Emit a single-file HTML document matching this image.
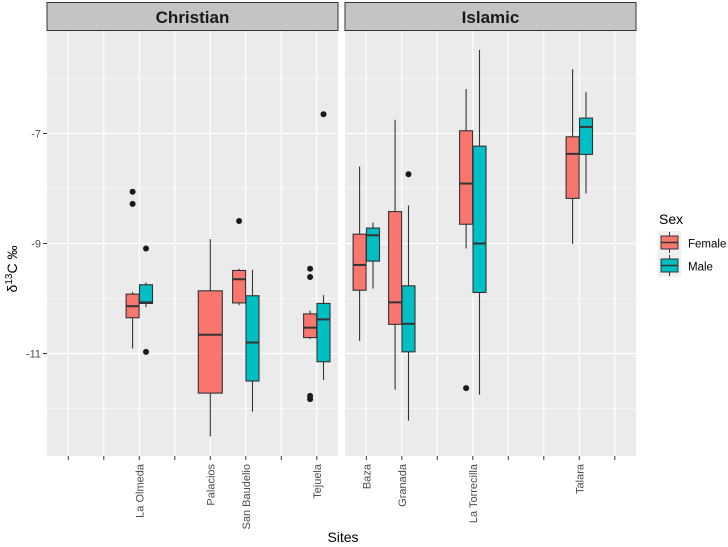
<!DOCTYPE html>
<html><head><meta charset="utf-8"><style>
body{margin:0;background:#fff;}
svg{display:block;font-family:"Liberation Sans",sans-serif;}
</style></head><body>
<svg id="chart" width="728" height="547" viewBox="0 0 728 547" xmlns="http://www.w3.org/2000/svg">
<g id="panels"></g>
<g>
<text x="659" y="224" font-size="14" fill="#000">Sex</text>
<rect x="658" y="231" width="23" height="23" fill="#f0f0f0"/>
<line x1="669.5" y1="232" x2="669.5" y2="253" stroke="#333" stroke-width="1"/>
<rect x="661" y="236" width="17" height="13" fill="#F8766D" stroke="#333" stroke-width="1"/>
<line x1="661" y1="242.5" x2="678" y2="242.5" stroke="#333" stroke-width="1.5"/>
<text x="688" y="247.5" font-size="11.5" fill="#000">Female</text>
<rect x="658" y="254" width="23" height="23" fill="#f0f0f0"/>
<line x1="669.5" y1="255" x2="669.5" y2="276" stroke="#333" stroke-width="1"/>
<rect x="661" y="259" width="17" height="13" fill="#00BFC4" stroke="#333" stroke-width="1"/>
<line x1="661" y1="265.5" x2="678" y2="265.5" stroke="#333" stroke-width="1.5"/>
<text x="688" y="270.5" font-size="11.5" fill="#000">Male</text>
</g>
<text x="343" y="542" font-size="14" text-anchor="middle" fill="#000">Sites</text>
<text transform="translate(17,269) rotate(-90)" font-size="14" text-anchor="middle" fill="#000">δ<tspan font-size="10" dy="-5">13</tspan><tspan dy="5">C ‰</tspan></text>
</svg>
<script>
const facets = ["Christian", "Islamic"];
const christianSites = ["", "", "La Olmeda", "", "Palacios", "San Baudelio", "", "Tejuela"];
const islamicSites = ["Baza", "Granada", "", "La Torrecilla", "", "", "Talara", ""];
const yTicks = [-7, -9, -11];
const yMinor = [-6, -8, -10, -12];
// each box: [facet, siteIndex, sex, lowWhisker, q1, median, q3, highWhisker]
const boxStats = [
  [0, 2, "F", -10.91, -10.35, -10.14, -9.92, -9.88],
  [0, 2, "M", -10.16, -10.09, -10.07, -9.75, -9.71],
  [0, 4, "F", -12.51, -11.72, -10.66, -9.86, -8.92],
  [0, 5, "F", -10.12, -10.08, -9.65, -9.49, -9.46],
  [0, 5, "M", -12.06, -11.5, -10.80, -9.95, -9.48],
  [0, 7, "F", -10.74, -10.71, -10.53, -10.28, -10.22],
  [0, 7, "M", -11.48, -11.15, -10.38, -10.09, -9.94],
  [1, 0, "F", -10.77, -9.85, -9.39, -8.83, -7.60],
  [1, 0, "M", -9.82, -9.32, -8.85, -8.72, -8.62],
  [1, 1, "F", -11.66, -10.47, -10.07, -8.42, -6.75],
  [1, 1, "M", -12.22, -10.97, -10.46, -9.77, -8.31],
  [1, 3, "F", -9.09, -8.65, -7.91, -6.95, -6.19],
  [1, 3, "M", -11.75, -9.89, -9.0, -7.23, -5.48],
  [1, 6, "F", -9.01, -8.18, -7.37, -7.06, -5.83],
  [1, 6, "M", -8.09, -7.38, -6.88, -6.72, -6.25]
];
// outliers: [facet, siteIndex, sex, value]
const outliers = [
  [0, 2, "F", -8.06], [0, 2, "F", -8.28],
  [0, 2, "M", -9.09], [0, 2, "M", -10.97],
  [0, 5, "F", -8.59],
  [0, 7, "F", -9.46], [0, 7, "F", -9.61], [0, 7, "F", -11.77], [0, 7, "F", -11.83],
  [0, 7, "M", -6.65],
  [1, 1, "M", -7.74],
  [1, 3, "F", -11.63]
];

{
const NS = "http://www.w3.org/2000/svg";
const panelX = [47, 345], panelW = 291, pTop = 31, pBottom = 456;
const step = 35.5;
function yScale(v){ return 133.5 - (v + 7) * 55; }
function xScale(f, i){ return panelX[f] + 21.3 + i * step; }
function mk(tag, attrs, parent){ const e = document.createElementNS(NS, tag); for (const k in attrs) e.setAttribute(k, attrs[k]); parent.appendChild(e); return e; }
const root = document.getElementById("panels");
const siteLists = [christianSites, islamicSites];
const colors = {F: "#F8766D", M: "#00BFC4"};

facets.forEach((fname, f) => {
  const g = mk("g", {}, root);
  
  
  const bg = mk("rect", {x: panelX[f], y: pTop, width: panelW, height: pBottom - pTop, fill: "#ebebeb"}, g);
  
  
  yMinor.forEach(v => { mk("line", {x1: panelX[f], x2: panelX[f] + panelW, y1: yScale(v), y2: yScale(v), stroke: "#fff", "stroke-width": 0.6}, g); });
  yTicks.forEach(v => { mk("line", {x1: panelX[f], x2: panelX[f] + panelW, y1: yScale(v), y2: yScale(v), stroke: "#fff", "stroke-width": 1.2}, g); });
  siteLists[f].forEach((s, i) => {
    const x = xScale(f, i);
    mk("line", {x1: x, x2: x, y1: pTop, y2: pBottom, stroke: "#fff", "stroke-width": 1.2}, g);
    mk("line", {x1: x, x2: x, y1: pBottom, y2: pBottom + 4, stroke: "#333", "stroke-width": 1}, g);
    if (s) {
      const t = mk("text", {transform: `translate(${x + 4},${pBottom + 8}) rotate(-90)`, "font-size": 11, "text-anchor": "end", fill: "#4d4d4d"}, g);
      t.textContent = s;
      
      
    }
  });
  const strip = mk("rect", {x: panelX[f], y: 2.5, width: panelW, height: 28, fill: "#c4c4c4", stroke: "#333", "stroke-width": 1}, g);
  
  
  const st = mk("text", {x: panelX[f] + panelW / 2, y: 23, "font-size": 17, "font-weight": "bold", "text-anchor": "middle", fill: "#1a1a1a"}, g);
  st.textContent = fname;
  
  
});

yTicks.forEach(v => {
  const y = yScale(v);
  mk("line", {x1: 43, x2: 47, y1: y, y2: y, stroke: "#333", "stroke-width": 1}, root);
  const t = mk("text", {x: 41, y: y + 4, "font-size": 11, "text-anchor": "end", fill: "#4d4d4d"}, root);
  t.textContent = v;
  
  
});

function boxPos(f, i, sex){
  const n = boxStats.filter(b => b[0] === f && b[1] === i).length;
  const x = xScale(f, i);
  if (n === 1) return {c: x, w: 24};
  return {c: x + (sex === "F" ? -6.7 : 6.7), w: 13};
}

boxStats.forEach(b => {
  const [f, i, sex, lo, q1, med, q3, hi] = b;
  const {c, w} = boxPos(f, i, sex);
  const g = mk("g", {}, root);
  
  
  mk("line", {x1: c, x2: c, y1: yScale(hi), y2: yScale(lo), stroke: "#333", "stroke-width": 1.1}, g);
  mk("rect", {x: c - w / 2, y: yScale(q3), width: w, height: yScale(q1) - yScale(q3), fill: colors[sex], stroke: "#333", "stroke-width": 1.1}, g);
  mk("line", {x1: c - w / 2, x2: c + w / 2, y1: yScale(med), y2: yScale(med), stroke: "#333", "stroke-width": 2}, g);
});

outliers.forEach(o => {
  const [f, i, sex, v] = o;
  const {c} = boxPos(f, i, sex);
  const p = mk("circle", {cx: c, cy: yScale(v), r: 3, fill: "#1a1a1a"}, root);
  
  
});
}
</script>
</body></html>
